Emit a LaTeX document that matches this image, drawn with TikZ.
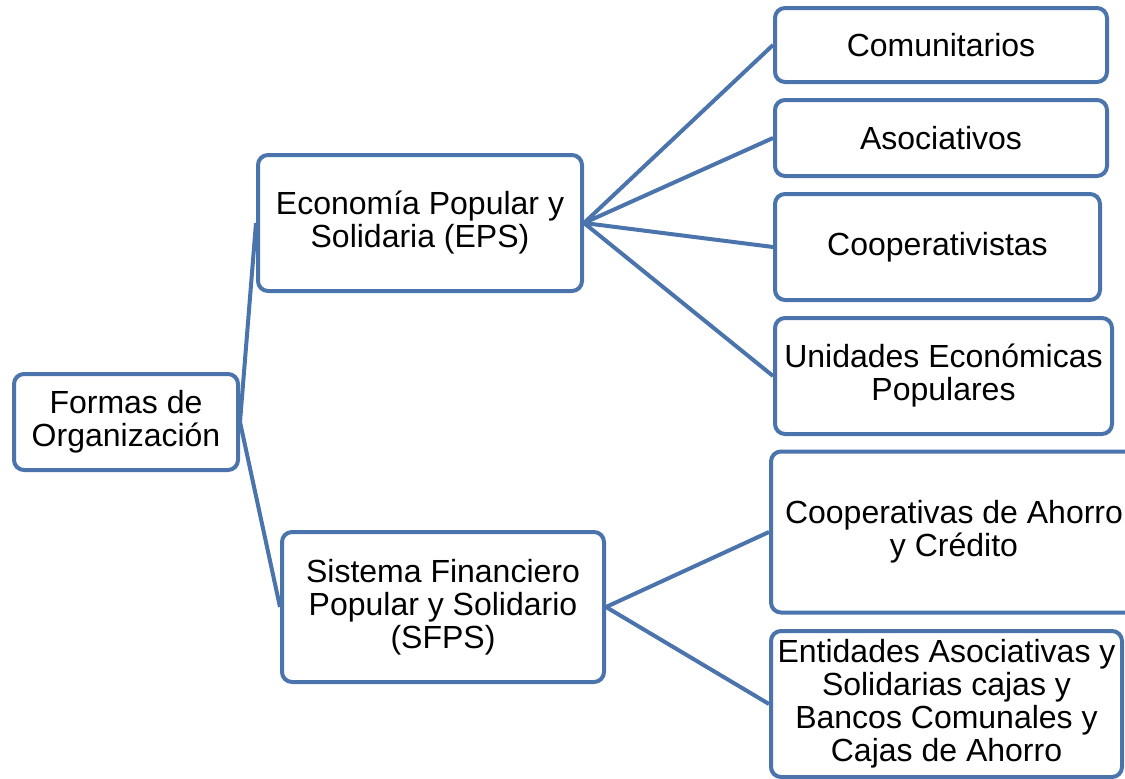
\documentclass[tikz,border=0pt]{standalone}
\usepackage{fontspec}
\setmainfont{Liberation Sans}
\usepackage{tikz}
\definecolor{orgblue}{RGB}{74,116,171}

\begin{document}
\begin{tikzpicture}[x=1pt,y=-1pt,
		orgbox/.style={draw=orgblue,line width=4pt,rounded corners=10pt,fill=white,
			inner sep=0pt,align=center,font=\fontsize{32}{33}\selectfont},
		link/.style={draw=orgblue,line width=4pt}]
				\clip (0,0) rectangle (1125,779);
				\useasboundingbox (0,0) rectangle (1125,779);

				\node[orgbox,minimum width=224pt,minimum height=96pt] (root) at (126,422) {Formas de\\Organización};

				\node[orgbox,minimum width=324pt,minimum height=136pt] (eps) at (420,223) {Economía Popular y\\Solidaria (EPS)};
				\node[orgbox,minimum width=322pt,minimum height=150pt] (sfps) at (443,607) {Sistema Financiero\\Popular y Solidario\\(SFPS)};

				\node[orgbox,minimum width=332pt,minimum height=74pt] (com) at (941,45) {Comunitarios};
				\node[orgbox,minimum width=332pt,minimum height=76pt] (aso) at (941,138) {Asociativos};
				\node[orgbox,minimum width=325pt,minimum height=106pt] (coo) at (937.5,247) {Cooperativistas};
				\node[orgbox,minimum width=337pt,minimum height=116pt] (uni) at (943.5,376) {Unidades Económicas\\Populares};

				\node[orgbox,minimum width=366pt,minimum height=161pt] (cah) at (954,532) {Cooperativas de Ahorro\\y Crédito};
				\node[orgbox,minimum width=351pt,minimum height=146pt] (ent) at (946.5,704) {Entidades Asociativas y\\Solidarias cajas y\\Bancos Comunales y\\Cajas de Ahorro};

				\draw[link] (root.east)--(eps.west);
				\draw[link] (root.east)--(sfps.west);

				\draw[link] (eps.east)--(com.west);
				\draw[link] (eps.east)--(aso.west);
				\draw[link] (eps.east)--(coo.west);
				\draw[link] (eps.east)--(uni.west);

				\draw[link] (sfps.east)--(cah.west);
				\draw[link] (sfps.east)--(ent.west);

			\end{tikzpicture}
\end{document}
